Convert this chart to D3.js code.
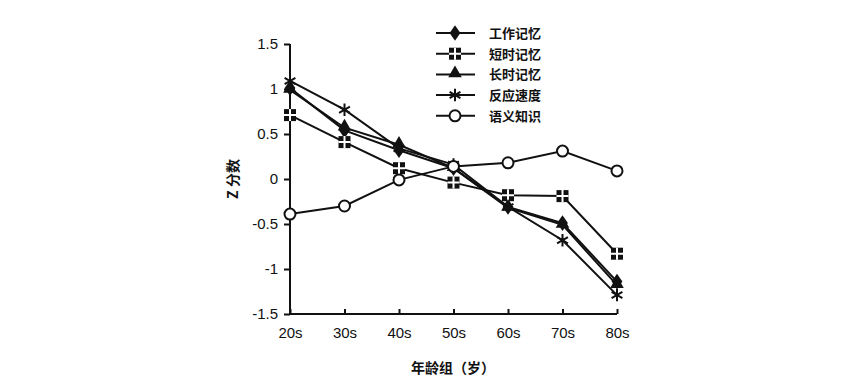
<!DOCTYPE html>
<html>
<head>
<meta charset="utf-8">
<script src="https://cdn.jsdelivr.net/npm/d3@7"></script>
<style>
  body { margin: 0; background: #fff; }
  svg text { font-family: "Liberation Sans", Arial, sans-serif; fill: #111; }
  .cjk { font-family: "Noto Sans CJK SC", sans-serif; font-weight: bold; }
</style>
</head>
<body>
<div id="chart"></div>
<script>
// age groups on x
const ageGroups = ['20s', '30s', '40s', '50s', '60s', '70s', '80s'];
const yTicks = [1.5, 1, 0.5, 0, -0.5, -1, -1.5];

// z-scores
const workingMemory = [1.01, 0.54, 0.32, 0.12, -0.31, -0.49, -1.14];
const shortTermMemory = [0.71, 0.41, 0.12, -0.04, -0.18, -0.19, -0.83];
const longTermMemory = [0.99, 0.57, 0.38, 0.12, -0.32, -0.51, -1.18];
const processingSpeed = [1.09, 0.77, 0.34, 0.16, -0.31, -0.68, -1.29];
const semanticKnowledge = [-0.39, -0.30, -0.01, 0.14, 0.18, 0.31, 0.09];

const seriesNames = ['工作记忆', '短时记忆', '长时记忆', '反应速度', '语义知识'];
const seriesMarks = ['diamond', 'plus', 'triangle', 'asterisk', 'circle'];
const seriesValues = [workingMemory, shortTermMemory, longTermMemory, processingSpeed, semanticKnowledge];

const W = 865, H = 391;
const svg = d3.select('#chart').append('svg')
  .attr('width', W).attr('height', H);
svg.append('rect').attr('width', W).attr('height', H).attr('fill', '#fff');

const x = d3.scalePoint().domain(ageGroups).range([290, 617]);
const y = d3.scaleLinear().domain([-1.5, 1.5]).range([314, 44]);

// axes
const xAxis = d3.axisBottom(x).tickSize(-5).tickPadding(13);
const yAxis = d3.axisLeft(y).tickValues(yTicks).tickSize(6).tickPadding(6)
  .tickFormat(d => String(d));

const gx = svg.append('g').attr('transform', 'translate(0,314)').call(xAxis);
gx.select('.domain').attr('d', 'M290,0H617').attr('stroke', '#111').attr('stroke-width', 2);
gx.selectAll('.tick line').attr('stroke', '#111').attr('stroke-width', 2);
gx.selectAll('.tick text').style('font-size', '15px').attr('fill', '#111');

const gy = svg.append('g').attr('transform', 'translate(290,0)').call(yAxis);
gy.select('.domain').attr('d', 'M0,44V314').attr('stroke', '#111').attr('stroke-width', 2);
gy.selectAll('.tick line').attr('stroke', '#111').attr('stroke-width', 2);
gy.selectAll('.tick text').style('font-size', '15px').attr('fill', '#111');

// axis titles
svg.append('text').attr('class', 'cjk')
  .attr('x', 453).attr('y', 373)
  .attr('text-anchor', 'middle')
  .style('font-size', '14px')
  .text('年龄组（岁）');

svg.append('text').attr('class', 'cjk')
  .attr('transform', 'translate(238,179) rotate(-90)')
  .attr('text-anchor', 'middle')
  .style('font-size', '14px')
  .text('Z 分数');

function drawMarker(g, type, cx, cy) {
  if (type === 'diamond') {
    g.append('path').attr('d', d3.symbol(d3.symbolDiamond, 70)())
      .attr('transform', `translate(${cx},${cy}) scale(1.2,1)`).attr('fill', '#111');
  } else if (type === 'triangle') {
    g.append('path').attr('d', d3.symbol(d3.symbolTriangle, 80)())
      .attr('transform', `translate(${cx},${cy - 1})`).attr('fill', '#111');
  } else if (type === 'circle') {
    g.append('circle').attr('cx', cx).attr('cy', cy).attr('r', 5.5)
      .attr('fill', '#fff').attr('stroke', '#111').attr('stroke-width', 2);
  } else if (type === 'plus') {
    g.append('rect').attr('x', cx - 6).attr('y', cy - 6).attr('width', 12).attr('height', 12)
      .attr('fill', '#111');
    g.append('path').attr('d', `M${cx - 6},${cy}H${cx + 6}M${cx},${cy - 6}V${cy + 6}`)
      .attr('stroke', '#fff').attr('stroke-width', 2);
  } else if (type === 'asterisk') {
    g.append('path').attr('d', d3.symbol(d3.symbolAsterisk, 110)())
      .attr('transform', `translate(${cx},${cy})`)
      .attr('fill', 'none').attr('stroke', '#111').attr('stroke-width', 2);
  }
}

const line = d3.line().x((d, i) => x(ageGroups[i])).y(d => y(d));

seriesValues.forEach((vals, k) => {
  svg.append('path').datum(vals)
    .attr('d', line)
    .attr('fill', 'none').attr('stroke', '#111').attr('stroke-width', 2);
});
seriesValues.forEach((vals, k) => {
  const g = svg.append('g');
  vals.forEach((v, i) => drawMarker(g, seriesMarks[k], x(ageGroups[i]), y(v)));
});

// legend
const legend = svg.append('g');
seriesNames.forEach((name, k) => {
  const ly = 33 + k * 20.7;
  legend.append('line').attr('x1', 436).attr('x2', 475).attr('y1', ly).attr('y2', ly)
    .attr('stroke', '#111').attr('stroke-width', 2);
  drawMarker(legend, seriesMarks[k], 455, ly);
  legend.append('text').attr('class', 'cjk')
    .attr('x', 489).attr('y', ly + 5)
    .style('font-size', '13px')
    .text(name);
});
</script>
</body>
</html>
